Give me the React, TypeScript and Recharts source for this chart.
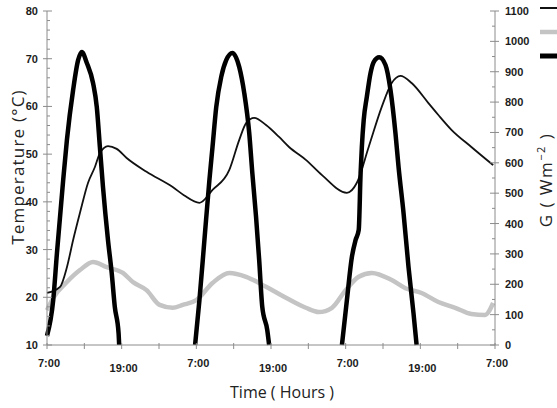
import { ComposedChart, Line, XAxis, YAxis, Legend } from "recharts";

// hours after 7:00 on day 1
const collectorHours = [0, 2.1, 3.2, 4.2, 5.3, 6.6, 7.7, 8.5, 9.8, 11.2, 12.8, 16.0, 20.2, 22.0, 24.5, 26.6, 29.3, 30.9, 32.0, 33.3, 35.2, 37.3, 38.9, 41.6, 44.2, 48.2, 49.8, 51.7, 53.8, 55.4, 56.8, 58.6, 61.3, 62.9, 65.0, 68.2, 71.7];
const collectorTemp = [20.9, 22.2, 26.3, 32.0, 37.7, 44.0, 47.3, 50.2, 51.7, 51.1, 49.2, 46.3, 43.1, 41.4, 39.8, 42.5, 46.7, 53.0, 56.5, 57.6, 56.1, 53.6, 51.5, 48.8, 45.6, 41.9, 44.0, 51.5, 59.9, 64.9, 66.4, 64.9, 60.7, 58.2, 55.1, 51.5, 47.7];

const ambientHours = [0, 1.0, 3.2, 5.3, 7.4, 9.6, 12.2, 13.8, 16.0, 18.1, 20.2, 21.8, 24.0, 26.6, 29.3, 32.0, 35.2, 38.4, 41.6, 43.7, 45.8, 48.0, 50.1, 52.2, 55.4, 57.6, 60.2, 62.9, 65.6, 68.2, 70.4, 71.7];
const ambientTemp = [17.3, 19.9, 23.2, 25.7, 27.4, 26.3, 25.1, 23.2, 21.5, 18.4, 17.8, 18.4, 19.4, 23.0, 25.1, 24.3, 22.2, 19.9, 17.8, 16.9, 17.8, 21.5, 24.3, 25.1, 23.6, 21.9, 20.9, 19.0, 17.8, 16.5, 16.3, 18.8];

// solar irradiance, null = night (no line drawn)
const irrHours = [0, 1.0, 1.6, 2.6, 3.2, 4.2, 5.0, 5.6, 6.4, 7.4, 8.0, 8.5, 9.0, 9.8, 10.4, 10.9, 11.5, 11.6, 17, 23.8, 24.5, 25.3, 26.1, 26.6, 27.2, 28.0, 28.8, 29.8, 30.9, 31.7, 32.5, 33.0, 33.6, 34.1, 34.6, 35.4, 35.7, 42, 47.4, 48.2, 49.0, 49.6, 50.1, 50.4, 50.6, 50.9, 51.4, 52.0, 52.5, 53.4, 54.4, 55.2, 56.0, 56.5, 57.3, 58.1, 58.9, 59.4];
const irrValues = [30, 148, 303, 543, 675, 840, 938, 965, 929, 863, 784, 652, 520, 346, 237, 125, 40, 0, null, 0, 148, 346, 543, 652, 784, 883, 938, 962, 915, 830, 698, 566, 421, 280, 125, 49, 0, null, 0, 148, 290, 346, 379, 566, 652, 741, 817, 896, 932, 948, 922, 840, 698, 586, 435, 257, 105, 0];

const xTicks = [0, 6, 12, 18, 24, 30, 36, 42, 48, 54, 60, 66, 72];
const xTickLabels: Record<number, string> = { 0: "7:00", 12: "19:00", 24: "7:00", 36: "19:00", 48: "7:00", 60: "19:00", 72: "7:00" };
const tempTicks = Array.from({ length: 36 }, (_, i) => 10 + i * 2);
const irrTicks = Array.from({ length: 23 }, (_, i) => i * 50);

const collectorData = collectorHours.map((h, i) => ({ h, col: collectorTemp[i] }));
const ambientData = ambientHours.map((h, i) => ({ h, amb: ambientTemp[i] }));
const irrData = irrHours.map((h, i) => ({ h, g: irrValues[i] }));

const AXIS = "#8c8c8c";
const TICK_TEXT = "#1c1c1c";
const tickFont = { fontFamily: "'Liberation Sans', Arial, sans-serif", fontSize: 11, fontWeight: 700 };
const titleFont = "'Open Sans', sans-serif";

const legendStyle: Record<string, { color: string; width: number }> = {
  col: { color: "#111", width: 2 },
  amb: { color: "#c4c4c4", width: 4.5 },
  g: { color: "#000", width: 5 },
};
const legendOrder = ["col", "amb", "g"];

function TempTick(props: any) {
  const { x, y, payload } = props;
  const major = payload.value % 10 === 0;
  return (
    <g>
      <line x1={major ? x - 4 : x} x2={x + (major ? 5 : 3)} y1={y} y2={y} stroke={AXIS} />
      {major && (
        <text x={x - 9} y={y} dy={4} textAnchor="end" fill={TICK_TEXT} {...tickFont}>
          {payload.value}
        </text>
      )}
    </g>
  );
}

function IrrTick(props: any) {
  const { x, y, payload } = props;
  const major = payload.value % 100 === 0;
  return (
    <g>
      <line x1={major ? x - 5 : x - 3} x2={major ? x + 4 : x} y1={y} y2={y} stroke={AXIS} />
      {major && (
        <text x={x + 10} y={y} dy={4} textAnchor="start" fill={TICK_TEXT} {...tickFont}>
          {payload.value}
        </text>
      )}
    </g>
  );
}

function TimeTick(props: any) {
  const { x, y, payload } = props;
  const label = xTickLabels[payload.value];
  const morning = label === "7:00";
  return (
    <g>
      <line x1={x} x2={x} y1={y - 2} y2={y + 4} stroke={AXIS} />
      {label && (
        <text x={x + 2} y={y + (morning ? 22 : 27)} textAnchor="middle" fill={TICK_TEXT} {...tickFont}>
          {label}
        </text>
      )}
    </g>
  );
}

function LegendLines(props: any) {
  const payload = [...(props.payload || [])].sort(
    (a: any, b: any) => legendOrder.indexOf(a.dataKey) - legendOrder.indexOf(b.dataKey),
  );
  return (
    <svg width={30} height={64}>
      {payload.map((p: any, i: number) => {
        const s = legendStyle[p.dataKey];
        return <line key={p.dataKey} x1={2} x2={30} y1={8 + i * 24} y2={8 + i * 24} stroke={s.color} strokeWidth={s.width} />;
      })}
    </svg>
  );
}

export default function App() {
  return (
    <div style={{ position: "absolute", left: 0, top: 0, width: 557, height: 408, overflow: "hidden", background: "#fff" }}>
      <ComposedChart width={557} height={408} margin={{ top: 11, right: 10, bottom: 15, left: 10 }}>
        <XAxis
          type="number"
          dataKey="h"
          domain={[0, 72]}
          ticks={xTicks}
          interval={0}
          height={48}
          tickLine={false}
          tickSize={0}
          tickMargin={0}
          axisLine={{ stroke: AXIS }}
          tick={<TimeTick />}
          allowDuplicatedCategory={false}
        />
        <YAxis
          yAxisId="t"
          domain={[10, 80]}
          ticks={tempTicks}
          interval={0}
          width={37}
          tickLine={false}
          tickSize={0}
          tickMargin={0}
          axisLine={{ stroke: AXIS }}
          tick={<TempTick />}
        />
        <YAxis
          yAxisId="g"
          orientation="right"
          domain={[0, 1100]}
          ticks={irrTicks}
          interval={0}
          width={52}
          tickLine={false}
          tickSize={0}
          tickMargin={0}
          axisLine={{ stroke: AXIS }}
          tick={<IrrTick />}
        />
        <Legend
          content={<LegendLines />}
          wrapperStyle={{ position: "absolute", left: 538, top: 0, width: 0, height: 0, overflow: "visible" }}
        />
        <Line data={ambientData} yAxisId="t" dataKey="amb" type="monotone" stroke="#c4c4c4" strokeWidth={4.5} dot={false} isAnimationActive={false} />
        <Line data={collectorData} yAxisId="t" dataKey="col" type="monotone" stroke="#111" strokeWidth={1.8} dot={false} isAnimationActive={false} />
        <Line data={irrData} yAxisId="g" dataKey="g" type="monotone" stroke="#000" strokeWidth={4.5} dot={false} connectNulls={false} isAnimationActive={false} />
      </ComposedChart>

      <div
        style={{
          position: "absolute",
          left: 17,
          top: 167,
          transform: "translate(-50%, -50%) rotate(-90deg)",
          whiteSpace: "nowrap",
          fontFamily: titleFont,
          fontSize: 17,
          letterSpacing: 1.2,
          color: "#222",
        }}
      >
        Temperature (°C)
      </div>
      <div
        style={{
          position: "absolute",
          left: 545,
          top: 180,
          transform: "translate(-50%, -50%) rotate(-90deg)",
          whiteSpace: "nowrap",
          fontFamily: titleFont,
          fontSize: 17,
          letterSpacing: 1.5,
          color: "#222",
        }}
      >
        G ( Wm<sup style={{ fontSize: 11 }}>−2</sup> )
      </div>
      <div
        style={{
          position: "absolute",
          left: 282,
          top: 392,
          transform: "translate(-50%, -50%)",
          whiteSpace: "nowrap",
          fontFamily: titleFont,
          fontSize: 16,
          color: "#222",
        }}
      >
        Time ( Hours )
      </div>
    </div>
  );
}
